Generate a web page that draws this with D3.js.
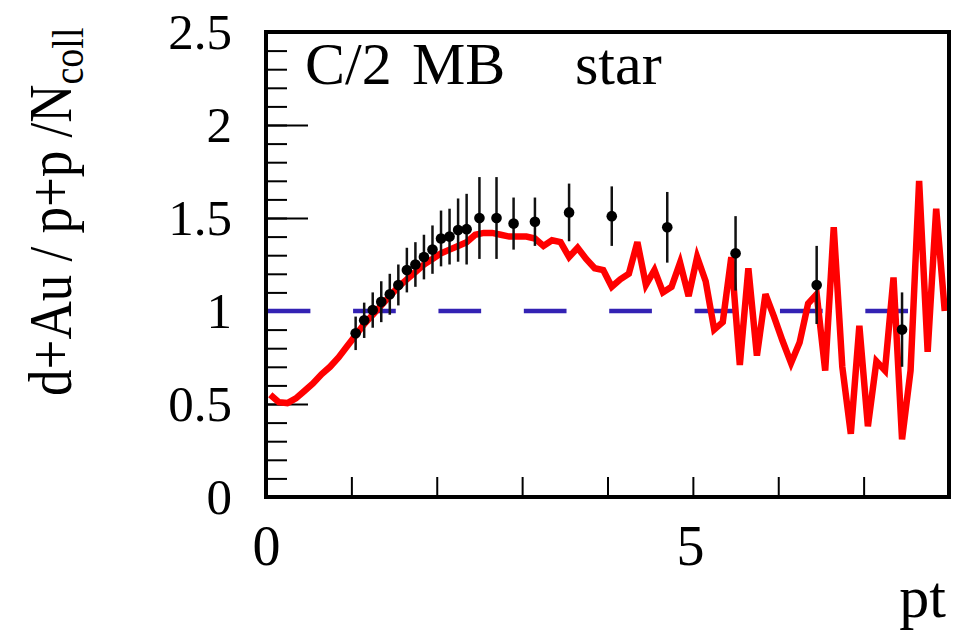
<!DOCTYPE html>
<html>
<head>
<meta charset="utf-8">
<script src="https://cdn.jsdelivr.net/npm/d3@7"></script>
<style>
  html, body { margin: 0; padding: 0; background: #fff; }
  svg { display: block; }
  text { font-family: "Liberation Serif", "Times New Roman", serif; fill: #000; }
</style>
</head>
<body>
<svg id="chart" width="955" height="633"></svg>
<script>
// Model ratio, 0.1-wide pt bins (bin centres)
const modelPt = [
  0.05, 0.15, 0.25, 0.35, 0.45, 0.55, 0.65, 0.75, 0.85, 0.95,
  1.05, 1.15, 1.25, 1.35, 1.45, 1.55, 1.65, 1.75, 1.85, 1.95,
  2.05, 2.15, 2.25, 2.35, 2.45, 2.55, 2.65, 2.75, 2.85, 2.95,
  3.05, 3.15, 3.25, 3.35, 3.45, 3.55, 3.65, 3.75, 3.85, 3.95,
  4.05, 4.15, 4.25, 4.35, 4.45, 4.55, 4.65, 4.75, 4.85, 4.95,
  5.05, 5.15, 5.25, 5.35, 5.45, 5.55, 5.65, 5.75, 5.85, 5.95,
  6.05, 6.15, 6.25, 6.35, 6.45, 6.55, 6.65, 6.75, 6.85, 6.95,
  7.05, 7.15, 7.25, 7.35, 7.45, 7.55, 7.65, 7.75, 7.85, 7.95
];
const modelRatio = [
  0.55, 0.51, 0.505, 0.53, 0.57, 0.61, 0.66, 0.70, 0.75, 0.81,
  0.87, 0.93, 0.98, 1.03, 1.08, 1.13, 1.17, 1.21, 1.25, 1.28,
  1.31, 1.33, 1.35, 1.37, 1.41, 1.42, 1.42, 1.41, 1.40, 1.40,
  1.40, 1.39, 1.35, 1.38, 1.37, 1.29, 1.34, 1.28, 1.23, 1.22,
  1.13, 1.17, 1.20, 1.37, 1.14, 1.22, 1.10, 1.13, 1.26, 1.08,
  1.29, 1.16, 0.90, 0.94, 1.29, 0.71, 1.23, 0.76, 1.09, 0.97,
  0.84, 0.72, 0.83, 1.04, 1.09, 0.68, 1.45, 0.70, 0.34, 0.92,
  0.38, 0.73, 0.68, 1.18, 0.31, 0.68, 1.70, 0.78, 1.55, 1.00
];

// STAR minimum-bias points with their errors
const starPt = [1.05, 1.15, 1.25, 1.35, 1.45, 1.55, 1.65, 1.75, 1.85, 1.95,
                2.05, 2.15, 2.25, 2.35, 2.5, 2.7, 2.9, 3.15, 3.55, 4.05,
                4.7, 5.5, 6.45, 7.45];
const starRatio = [0.88, 0.95, 1.005, 1.05, 1.09, 1.14, 1.22, 1.25, 1.29, 1.33,
                   1.39, 1.40, 1.435, 1.44, 1.50, 1.50, 1.47, 1.48, 1.53, 1.51,
                   1.45, 1.31, 1.14, 0.90];
const starErr = [0.09, 0.095, 0.095, 0.11, 0.11, 0.11, 0.12, 0.12, 0.12, 0.13,
                 0.15, 0.15, 0.17, 0.19, 0.22, 0.22, 0.14, 0.13, 0.155, 0.16,
                 0.19, 0.20, 0.21, 0.20];

const refLevel = 1;
const xMajorLabels = [0, 5];
const yMajorTicks = [0, 0.5, 1, 1.5, 2, 2.5];
const titleWords = ["C/2", "MB", "star"];

const svg = d3.select("#chart");
const frameL = 266, frameR = 949, frameT = 32, frameB = 497;

const x = d3.scaleLinear().domain([0, 8]).range([frameL, frameR]);
const y = d3.scaleLinear().domain([0, 2.5]).range([frameB, frameT]);

// Y axis: minor ticks every 0.1, major every 0.5 with labels
const yMinor = d3.range(0, 26).map(i => i / 10);
svg.append("g")
  .attr("transform", `translate(${frameL},0)`)
  .call(d3.axisLeft(y).tickValues(yMinor).tickSizeInner(-21).tickSizeOuter(0).tickFormat(""))
  .call(g => g.select(".domain").remove())
  .call(g => g.selectAll("line").attr("stroke", "#000").attr("stroke-width", 2));

svg.append("g")
  .attr("transform", `translate(${frameL},0)`)
  .call(d3.axisLeft(y).tickValues(yMajorTicks).tickSizeInner(-42).tickSizeOuter(0)
        .tickPadding(34).tickFormat(d => String(d)))
  .call(g => g.select(".domain").remove())
  .call(g => g.selectAll("line").attr("stroke", "#000").attr("stroke-width", 2))
  .call(g => g.selectAll("text").attr("font-size", 51).attr("fill", "#000")
        .style("font-family", "'Liberation Serif', serif"));

// X axis: ticks every unit, labels at 0 and 5
svg.append("g")
  .attr("transform", `translate(0,${frameB})`)
  .call(d3.axisBottom(x).tickValues(d3.range(0, 9)).tickSizeInner(-20).tickSizeOuter(0)
        .tickPadding(28).tickFormat(d => xMajorLabels.includes(d) ? String(d) : ""))
  .call(g => g.select(".domain").remove())
  .call(g => g.selectAll("line").attr("stroke", "#000").attr("stroke-width", 2))
  .call(g => g.selectAll("text").attr("font-size", 56).attr("fill", "#000")
        .attr("dx", (d) => d === 5 ? -3 : 0)
        .style("font-family", "'Liberation Serif', serif"));

// Clip for plotted data
svg.append("clipPath").attr("id", "plotClip")
  .append("rect").attr("x", frameL).attr("y", frameT)
  .attr("width", frameR - frameL).attr("height", frameB - frameT);

const plot = svg.append("g").attr("clip-path", "url(#plotClip)");

// Reference line at unity
const dashLen = x(0.5) - x(0);
plot.append("line")
  .attr("x1", x(0.02)).attr("x2", x(8.02))
  .attr("y1", y(refLevel)).attr("y2", y(refLevel))
  .attr("stroke", "#3322b4").attr("stroke-width", 4.5)
  .attr("stroke-dasharray", `${dashLen} ${dashLen}`);

// Model curve
const line = d3.line().x((d, i) => x(modelPt[i])).y(d => y(d));
plot.append("path")
  .datum(modelRatio)
  .attr("d", line)
  .attr("fill", "none")
  .attr("stroke", "#ff0000")
  .attr("stroke-width", 6.5)
  .attr("stroke-linejoin", "miter");

// Data points with error bars
const pts = starPt.map((p, i) => ({ p, r: starRatio[i], e: starErr[i] }));
plot.selectAll("line.err").data(pts).join("line")
  .attr("class", "err")
  .attr("x1", d => x(d.p)).attr("x2", d => x(d.p))
  .attr("y1", d => y(d.r - d.e)).attr("y2", d => y(d.r + d.e))
  .attr("stroke", "#111").attr("stroke-width", 2.5);
plot.selectAll("circle.pt").data(pts).join("circle")
  .attr("class", "pt")
  .attr("cx", d => x(d.p)).attr("cy", d => y(d.r))
  .attr("r", 5.3).attr("fill", "#000");

// Frame
svg.append("rect")
  .attr("x", frameL).attr("y", frameT)
  .attr("width", frameR - frameL).attr("height", frameB - frameT)
  .attr("fill", "none").attr("stroke", "#000").attr("stroke-width", 4);

// Title inside the frame
const titleX = [305, 412, 575];
svg.append("g").selectAll("text").data(titleWords).join("text")
  .attr("x", (d, i) => titleX[i]).attr("y", 84)
  .attr("font-size", 60)
  .text(d => d);

// Axis titles
const yTitle = svg.append("text")
  .attr("transform", "translate(71,396) rotate(-90) scale(1,1.15)")
  .attr("font-size", 53);
yTitle.append("tspan").text("d+Au / p+p /N");
yTitle.append("tspan").attr("font-size", 38).attr("dy", 10).text("coll");

svg.append("text")
  .attr("x", 946).attr("y", 617)
  .attr("text-anchor", "end")
  .attr("font-size", 60)
  .text("pt");
</script>
</body>
</html>
